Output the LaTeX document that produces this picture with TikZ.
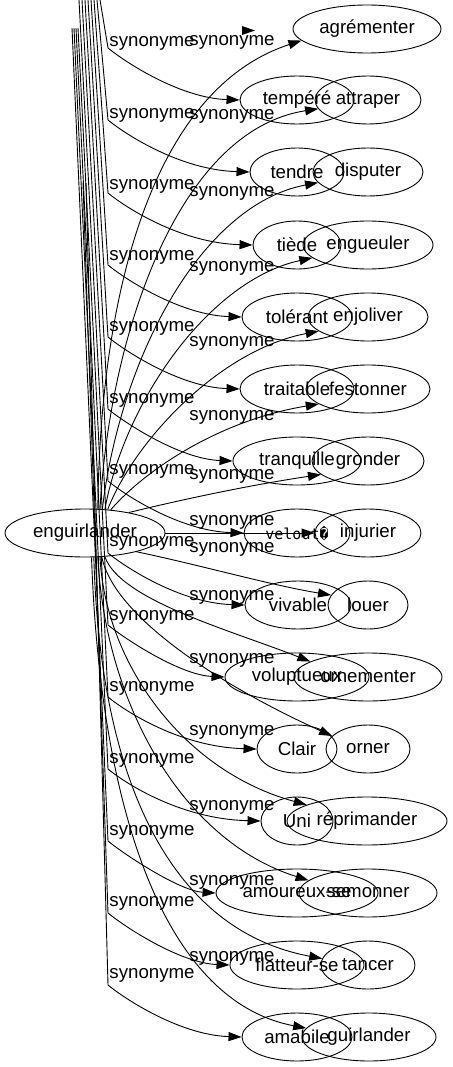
\documentclass[tikz,border=0pt]{standalone}
\usepackage{fontspec}
\setmainfont{Liberation Sans}
\newfontfamily\monof{DejaVu Sans Mono}
\usetikzlibrary{shapes.geometric,arrows.meta}
\begin{document}
\begin{tikzpicture}[x=1pt,y=-1pt,
  wn/.style={ellipse,draw,line width=0.9pt,inner sep=0pt,minimum height=48pt,font=\fontsize{18.67}{22}\selectfont},
  lbl/.style={inner sep=0pt,font=\fontsize{18.67}{22}\selectfont},
  ed/.style={draw,line width=0.9pt,-{Triangle[length=13pt,width=9pt]}},
  ln/.style={draw,line width=0.9pt}]
\useasboundingbox (0,0) rectangle (452,1067);

% central node
\node[wn,minimum width=160pt] (eng) at (85,533) {enguirlander};

% right column
\node[wn,minimum width=148pt] (agrem) at (367,29) {agrémenter};
\node[wn,minimum width=106pt] (attr) at (368,100) {attraper};
\node[wn,minimum width=110pt] (disp) at (368,172) {disputer};
\node[wn,minimum width=130pt] (engu) at (368,245) {engueuler};
\node[wn,minimum width=120pt] (enjo) at (368,317) {enjoliver};
\node[wn,minimum width=124pt] (fest) at (368,389) {festonner};
\node[wn,minimum width=112pt] (gron) at (368,461) {gronder};
\node[wn,minimum width=106pt] (inju) at (368,533) {injurier};
\node[wn,minimum width=80pt] (louer) at (368,605) {louer};
\node[wn,minimum width=148pt] (ornem) at (368,677) {ornementer};
\node[wn,minimum width=84pt] (orner) at (368,749) {orner};
\node[wn,minimum width=160pt] (repr) at (367,821) {réprimander};
\node[wn,minimum width=138pt] (semo) at (368,893) {semonner};
\node[wn,minimum width=94pt] (tanc) at (368,965) {tancer};
\node[wn,minimum width=134pt] (guir) at (369,1037) {guirlander};

% left column
\node[wn,minimum width=114pt] (temp) at (297,100) {tempéré};
\node[wn,minimum width=94pt] (tend) at (297,172) {tendre};
\node[wn,minimum width=88pt] (tied) at (297,245) {tiède};
\node[wn,minimum width=110pt] (tole) at (297,317) {tolérant};
\node[wn,minimum width=114pt] (trai) at (297,389) {traitable};
\node[wn,minimum width=128pt] (tranq) at (297,461) {tranquille};
\node[wn,minimum width=106pt,font=\monof\fontsize{15}{18}\selectfont] (velo) at (297,533) {velout\symbol{"FFFD}};
\node[wn,minimum width=106pt] (viva) at (298,605) {vivable};
\node[wn,minimum width=144pt] (volu) at (297,677) {voluptueux};
\node[wn,minimum width=80pt] (clai) at (297,749) {Clair};
\node[wn,minimum width=72pt] (uni) at (297,821) {Uni};
\node[wn,minimum width=162pt] (amou) at (297,893) {amoureux-se};
\node[wn,minimum width=134pt] (flat) at (297,965) {flatteur-se};
\node[wn,minimum width=110pt] (amab) at (297,1037) {amabile};

% edges towards the left column (coming from above)
\foreach \n/\xt/\yt/\ny in {temp/100/0/100, tend/97/0/172, tied/94/0/245, tole/91/0/317,
  trai/88/0/389, tranq/85/0/461, velo/82/0/533, viva/79/0/605, volu/78/28/677,
  clai/76/28/749, uni/74/28/821, amou/72/28/893, flat/83/183/965, amab/86/183/1037}{
  \coordinate (top\n) at (\xt,\yt);
  \draw[ed] (top\n) -- (108,{\ny-52}) .. controls (125,{\ny-38}) and (180,{\ny-2}) .. (\n.west);
}

% edges from enguirlander to the right column
\draw[ed] (eng.62) .. controls (100,300) and (150,90) .. (agrem.190);
\draw[ed] (eng.58) .. controls (110,330) and (180,130) .. (attr.190);
\draw[ed] (eng.54) .. controls (120,360) and (200,205) .. (disp.192);
\draw[ed] (eng.50) .. controls (125,400) and (210,280) .. (engu.193);
\draw[ed] (eng.46) .. controls (135,440) and (220,350) .. (enjo.196);
\draw[ed] (eng.42) .. controls (145,470) and (220,420) .. (fest.197);
\draw[ed] (eng.25) .. controls (180,500) and (250,485) .. (gron.196);
\draw[ed] (eng.east) -- (inju.west);
\draw[ed] (eng.-20) .. controls (200,565) and (270,585) .. (louer.165);
\draw[ed] (eng.-50) .. controls (120,600) and (230,630) .. (ornem.165);
\draw[ed] (eng.-55) .. controls (115,620) and (230,690) .. (orner.160);
\draw[ed] (eng.-58) .. controls (105,660) and (180,770) .. (repr.165);
\draw[ed] (eng.-62) .. controls (105,700) and (180,840) .. (semo.168);
\draw[ed] (eng.-70) .. controls (100,780) and (170,930) .. (tanc.172);
\draw[ed] (eng.-75) .. controls (100,800) and (160,1000) .. (guir.172);

% stray arrow head
\fill (242,26) -- (255,30.5) -- (242,35) -- cycle;

% labels
\foreach \y [count=\i] in {43,115,186,257,328,400,471,543,617,688,760,832,903,975}
  \node[lbl] (la\i) at (152,\y) {synonyme};
\foreach \y [count=\i] in {42,116,193,268,343,417,476,522,549,597,660,732,807,882,958}
  \node[lbl] (lb\i) at (232,\y) {synonyme};
\end{tikzpicture}
\end{document}
